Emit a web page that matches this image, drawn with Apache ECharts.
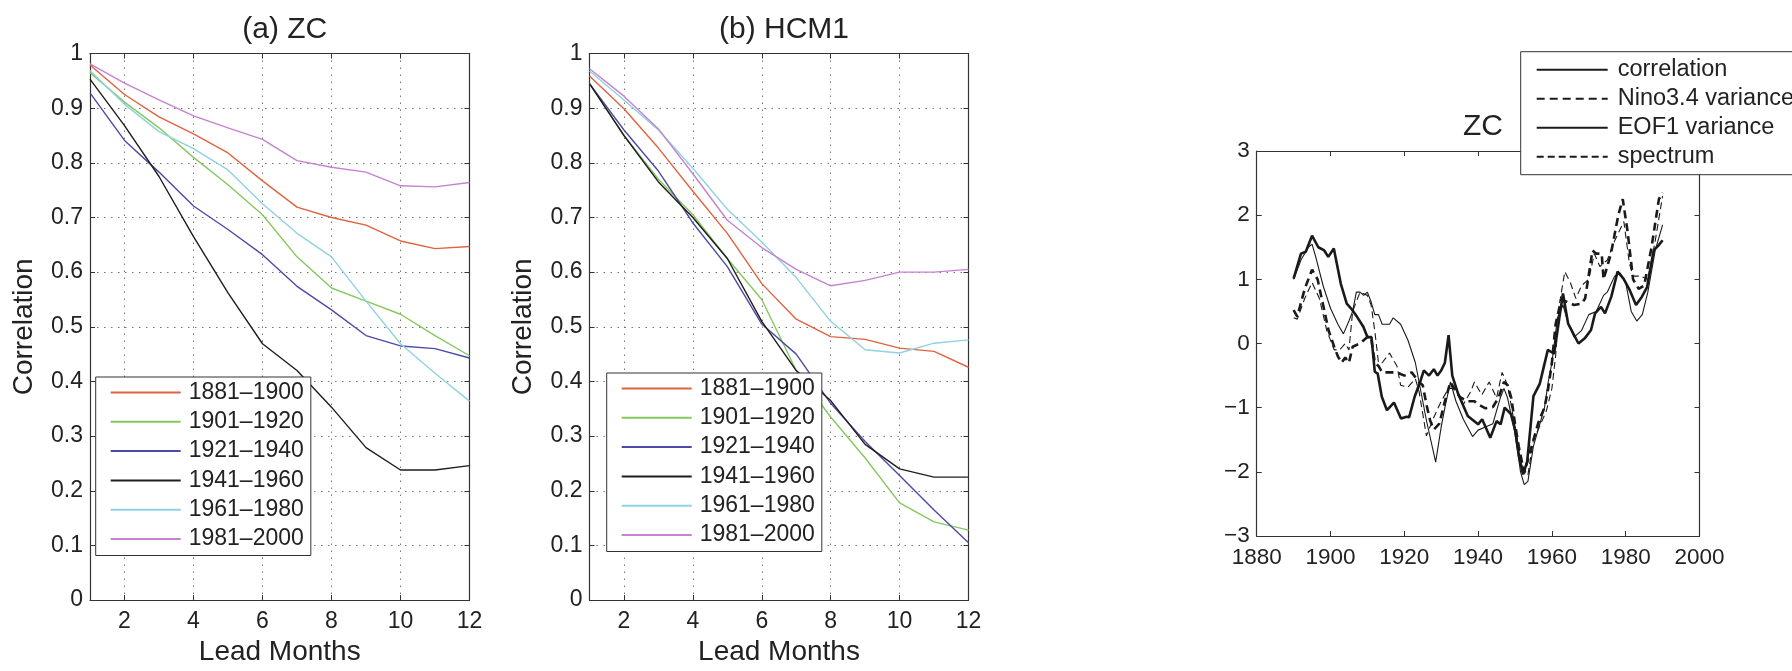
<!DOCTYPE html>
<html><head><meta charset="utf-8">
<script src="https://cdn.jsdelivr.net/npm/echarts@6/dist/echarts.min.js"></script>
<style>html,body{margin:0;padding:0;background:#fff}#c{width:1792px;height:671px}</style>
</head><body><div id="c"></div><script>
// ---------- data ----------
const leadMonths = [1,2,3,4,5,6,7,8,9,10,11,12];
const leadTicks = [2,4,6,8,10,12];
const periods = ['1881–1900','1901–1920','1921–1940','1941–1960','1961–1980','1981–2000'];
const periodColors = ['#e0623f','#86c85e','#4d4aa6','#1e1e1e','#8fd2e0','#c682cf'];

// (a) ZC
const zc1881 = [0.979,0.925,0.884,0.853,0.818,0.767,0.719,0.700,0.686,0.657,0.643,0.647];
const zc1901 = [0.965,0.911,0.864,0.810,0.760,0.705,0.628,0.571,0.547,0.523,0.484,0.447];
const zc1921 = [0.928,0.841,0.783,0.721,0.678,0.632,0.574,0.531,0.484,0.465,0.460,0.443];
const zc1941 = [0.953,0.868,0.775,0.665,0.562,0.469,0.420,0.353,0.279,0.238,0.238,0.246];
const zc1961 = [0.969,0.907,0.857,0.826,0.787,0.725,0.671,0.628,0.547,0.469,0.415,0.364];
const zc1981 = [0.981,0.946,0.915,0.886,0.864,0.843,0.804,0.792,0.783,0.758,0.756,0.764];

// (b) HCM1
const hcm1881 = [0.959,0.899,0.827,0.748,0.671,0.579,0.514,0.482,0.477,0.461,0.455,0.426];
const hcm1901 = [0.945,0.850,0.770,0.705,0.625,0.550,0.420,0.335,0.260,0.178,0.143,0.128];
const hcm1921 = [0.945,0.860,0.785,0.690,0.610,0.505,0.450,0.360,0.290,0.228,0.165,0.105];
const hcm1941 = [0.945,0.850,0.765,0.700,0.625,0.510,0.420,0.365,0.285,0.240,0.225,0.225];
const hcm1961 = [0.968,0.915,0.860,0.790,0.715,0.655,0.590,0.510,0.458,0.452,0.470,0.476];
const hcm1981 = [0.972,0.922,0.862,0.780,0.695,0.645,0.605,0.575,0.585,0.600,0.600,0.605];

// (c) ZC normalized time series  [year, value]
const corrSeries = [[1890,1.01],[1892,1.40],[1893.3,1.43],[1895,1.68],[1896.7,1.50],[1898.3,1.45],[1899.4,1.35],[1900.9,1.48],[1902.8,0.93],[1904.4,0.62],[1905.6,0.545],[1907.2,0.415],[1908.9,0.26],[1910,0.10],[1911.1,0.10],[1912,-0.44],[1912.8,-0.47],[1913.9,-0.83],[1915.3,-1.04],[1917.2,-0.92],[1919.1,-1.17],[1920.6,-1.14],[1921.3,-1.15],[1922.8,-0.83],[1924.4,-0.58],[1925.3,-0.42],[1926.7,-0.50],[1928,-0.40],[1929,-0.50],[1930,-0.42],[1931,-0.30],[1932,0.13],[1933,-0.50],[1934.5,-0.77],[1937.2,-1.13],[1940,-1.26],[1941.1,-1.18],[1943.3,-1.47],[1945,-1.21],[1946.1,-1.26],[1947.2,-1.00],[1948.9,-1.10],[1950,-1.34],[1951.1,-1.76],[1952.2,-2.04],[1953.3,-1.84],[1955,-0.82],[1956.7,-0.63],[1958.9,-0.10],[1960.6,-0.16],[1962.2,0.47],[1963,0.78],[1964.4,0.31],[1967.2,0.00],[1968.9,0.08],[1970.6,0.21],[1971.7,0.47],[1973.3,0.57],[1974.4,0.47],[1976.1,0.73],[1977.8,1.12],[1979.4,1.01],[1981.1,0.83],[1982.8,0.60],[1984.4,0.73],[1985.8,0.88],[1987.6,1.45],[1988.9,1.53],[1990,1.61]];
const ninoSeries = [[1890,0.52],[1891,0.42],[1893,0.85],[1895,1.15],[1896.5,1.00],[1898,0.60],[1899.5,0.20],[1901,-0.05],[1902,-0.20],[1903,-0.30],[1904,-0.22],[1905,-0.30],[1906,-0.05],[1908,0.00],[1910,0.10],[1911,0.10],[1912,-0.30],[1913,-0.35],[1914,-0.45],[1916,-0.45],[1918,-0.45],[1920,-0.50],[1922,-0.45],[1924,-0.60],[1925,-0.65],[1926,-0.95],[1927,-1.20],[1928,-1.34],[1929.5,-1.25],[1931,-0.90],[1932.5,-0.60],[1934,-0.75],[1935,-0.83],[1937,-0.90],[1939,-0.90],[1940,-0.95],[1942,-1.01],[1944,-0.99],[1945.5,-0.85],[1947,-0.60],[1948,-0.65],[1949,-0.85],[1950,-1.25],[1951,-1.60],[1952.5,-2.02],[1954,-1.70],[1955,-1.50],[1956.5,-1.20],[1958,-1.00],[1959,-0.70],[1960,-0.30],[1961,0.30],[1962.5,0.68],[1964,0.65],[1966,0.60],[1968,0.62],[1969,0.70],[1971,1.45],[1972,1.40],[1973.5,1.40],[1974,1.00],[1976,1.40],[1978,2.00],[1979.2,2.25],[1980.5,1.75],[1982,1.00],[1983.5,0.85],[1985,0.90],[1987,1.50],[1989,2.25],[1990,2.35]];
const eofSeries = [[1890,1.00],[1892,1.30],[1894,1.50],[1895,1.55],[1896,1.35],[1898,0.90],[1900,0.55],[1902,0.30],[1903.5,0.15],[1905,0.35],[1906,0.50],[1907,0.80],[1908,0.80],[1909,0.75],[1910,0.80],[1911,0.65],[1912,0.45],[1913,0.45],[1914,0.30],[1916,0.30],[1917,0.40],[1919,0.30],[1921,0.05],[1923,-0.30],[1924,-0.60],[1926,-1.20],[1928.5,-1.85],[1930,-1.30],[1931,-1.00],[1932.5,-0.60],[1934,-0.90],[1936,-1.18],[1938.5,-1.45],[1940,-1.35],[1942,-1.30],[1944,-1.25],[1946,-0.85],[1947,-0.70],[1948,-0.85],[1950,-1.40],[1951.5,-2.00],[1952.5,-2.20],[1953.5,-2.15],[1955,-1.60],[1957,-1.20],[1958,-1.00],[1959,-0.60],[1960,-0.30],[1961.5,0.40],[1963,0.60],[1964.5,0.30],[1966,0.10],[1968,0.20],[1970,0.45],[1972,0.50],[1974,0.75],[1975,0.80],[1977,1.05],[1978.5,1.10],[1980,0.95],[1981.5,0.50],[1983,0.35],[1984.5,0.45],[1986,0.80],[1988,1.45],[1990,1.85]];
const specSeries = [[1890,0.40],[1891,0.38],[1893,0.70],[1895,0.95],[1897,0.70],[1899,0.20],[1901,-0.10],[1902.5,-0.10],[1904,0.00],[1905,-0.10],[1906,0.50],[1908,0.80],[1910,0.75],[1911,0.60],[1912,0.20],[1913,-0.30],[1914,-0.30],[1916,-0.15],[1918,-0.35],[1919,-0.65],[1921,-0.68],[1923,-0.55],[1924,-0.75],[1926,-1.44],[1928,-1.15],[1930,-0.90],[1932,-0.70],[1934,-0.70],[1936,-0.95],[1938,-0.75],[1939,-0.60],[1941,-0.80],[1943,-0.60],[1945,-0.85],[1946.5,-0.45],[1948,-0.65],[1950,-1.30],[1952,-1.90],[1953.5,-2.05],[1955,-1.50],[1957,-1.25],[1958.5,-1.05],[1960,-0.70],[1961,-0.20],[1962,0.60],[1963.5,1.12],[1965,0.95],[1966.5,0.70],[1968,0.90],[1970,1.00],[1971.5,1.40],[1973,1.20],[1975,1.30],[1977,1.60],[1979.5,1.90],[1981,1.25],[1982,1.05],[1984,1.05],[1986,1.00],[1988,1.60],[1990,2.30]];
const cNames = ['correlation','Nino3.4 variance','EOF1 variance','spectrum'];

// ---------- chart ----------
const FONT = "'Liberation Sans', Arial, Helvetica, sans-serif";
const INK = '#222';
const AX = '#333';
const chart = echarts.init(document.getElementById('c'), null, {renderer:'canvas'});

const grids = [
  {left:90, top:53.5, width:379.5, height:552},
  {left:589.5, top:53.5, width:379, height:552},
  {left:1256.7, top:151, width:442.8, height:385}
];

const xAxes = [], yAxes = [];
function leadPanel(g){
  const common = {gridIndex:g, type:'value', min:1, max:12,
    axisLine:{show:true, onZero:false, lineStyle:{color:AX, width:1.2}},
    axisTick:{show:true, inside:true, length:5, customValues:leadTicks, lineStyle:{color:AX}}};
  xAxes.push(Object.assign({}, common, {position:'bottom',
    axisLabel:{show:true, customValues:leadTicks, fontSize:23, color:INK, fontFamily:FONT, margin:10},
    splitLine:{show:true, lineStyle:{type:[1.5,5.5], color:'#777', width:1}},
    name:'Lead Months', nameLocation:'middle', nameGap:36,
    nameTextStyle:{fontSize:28, color:INK, fontFamily:FONT}}));
  xAxes.push(Object.assign({}, common, {position:'top', axisLabel:{show:false}, splitLine:{show:false}}));
  const ycommon = {gridIndex:g, type:'value', min:0, max:1, interval:0.1,
    axisLine:{show:true, onZero:false, lineStyle:{color:AX, width:1.2}},
    axisTick:{show:true, inside:true, length:5, lineStyle:{color:AX}}};
  yAxes.push(Object.assign({}, ycommon, {position:'left',
    axisLabel:{show:true, fontSize:23, color:INK, fontFamily:FONT, margin:7,
      formatter:v=>String(+v.toFixed(1))},
    splitLine:{show:true, lineStyle:{type:[1.5,5.5], color:'#777', width:1}},
    name:'Correlation', nameLocation:'middle', nameGap:52, nameRotate:90,
    nameTextStyle:{fontSize:28, color:INK, fontFamily:FONT}}));
  yAxes.push(Object.assign({}, ycommon, {position:'right', axisLabel:{show:false}, splitLine:{show:false}}));
}
leadPanel(0); leadPanel(1);

// panel c axes
const cx = {gridIndex:2, type:'value', min:1880, max:2000, interval:20,
  axisLine:{show:true, onZero:false, lineStyle:{color:AX, width:1.2}},
  axisTick:{show:true, inside:true, length:5, lineStyle:{color:AX}}, splitLine:{show:false}};
xAxes.push(Object.assign({}, cx, {position:'bottom',
  axisLabel:{show:true, fontSize:22.5, color:INK, fontFamily:FONT, margin:10, formatter:v=>String(v)}}));
xAxes.push(Object.assign({}, cx, {position:'top', axisLabel:{show:false}}));
const cy = {gridIndex:2, type:'value', min:-3, max:3, interval:1,
  axisLine:{show:true, onZero:false, lineStyle:{color:AX, width:1.2}},
  axisTick:{show:true, inside:true, length:5, lineStyle:{color:AX}}, splitLine:{show:false}};
yAxes.push(Object.assign({}, cy, {position:'left',
  axisLabel:{show:true, fontSize:22.5, color:INK, fontFamily:FONT, margin:7,
    formatter:v=> v<0 ? '\u2212'+Math.abs(v) : String(v)}}));
yAxes.push(Object.assign({}, cy, {position:'right', axisLabel:{show:false}}));

const series = [];
const zcSets = [zc1881, zc1901, zc1921, zc1941, zc1961, zc1981];
const hcmSets = [hcm1881, hcm1901, hcm1921, hcm1941, hcm1961, hcm1981];
[zcSets, hcmSets].forEach((sets, p)=>{
  sets.forEach((arr, i)=>{
    series.push({type:'line', name:periods[i], xAxisIndex:p*2, yAxisIndex:p*2,
      data: leadMonths.map((m,k)=>[m, arr[k]]), symbol:'none', showSymbol:false,
      color:periodColors[i], lineStyle:{width:1.4, color:periodColors[i]}, z:3});
  });
});
const cSets = [corrSeries, ninoSeries, eofSeries, specSeries];
const cStyles = [
  {width:2.6, type:'solid'},
  {width:2.6, type:[8,5]},
  {width:1.1, type:'solid'},
  {width:1.1, type:[7,4]}
];
cSets.forEach((arr,i)=>{
  series.push({type:'line', name:cNames[i], xAxisIndex:4, yAxisIndex:4, data:arr,
    symbol:'none', showSymbol:false, color:'#1a1a1a',
    lineStyle:Object.assign({color:'#1a1a1a'}, cStyles[i]), z:3});
});

const legendCommon = {orient:'vertical', backgroundColor:'#fff', borderColor:AX, borderWidth:1,
  itemWidth:70, itemHeight:12, selectedMode:false, borderRadius:0,
  itemStyle:{opacity:0},
  textStyle:{fontSize:23, color:INK, fontFamily:FONT, lineHeight:23, padding:[0,0,0,3]}};

const titleStyle = {fontSize:30, fontWeight:'normal', color:INK, fontFamily:FONT};
const option = {
  animation:false,
  backgroundColor:'#fff',
  title:[
    {text:'(a) ZC', left:279.7, top:10, textAlign:'center', textStyle:titleStyle},
    {text:'(b) HCM1', left:779, top:10, textAlign:'center', textStyle:titleStyle},
    {text:'ZC', left:1478, top:107, textAlign:'center', textStyle:titleStyle}
  ],
  grid:grids,
  xAxis:xAxes,
  yAxis:yAxes,
  legend:[
    Object.assign({}, legendCommon, {left:95.7, top:377, padding:[4,7,5,14], itemGap:6.3, data:periods}),
    Object.assign({}, legendCommon, {left:606.7, top:373, padding:[4,7,5,14], itemGap:6.3, data:periods}),
    Object.assign({}, legendCommon, {left:1520.7, top:51.7, padding:[6,10,6,15], itemGap:5, itemWidth:71,
      textStyle:{fontSize:23.5, color:INK, fontFamily:FONT, lineHeight:24, padding:[0,0,0,5]}, data:cNames})
  ],
  series:series
};
chart.setOption(option);
</script></body></html>
